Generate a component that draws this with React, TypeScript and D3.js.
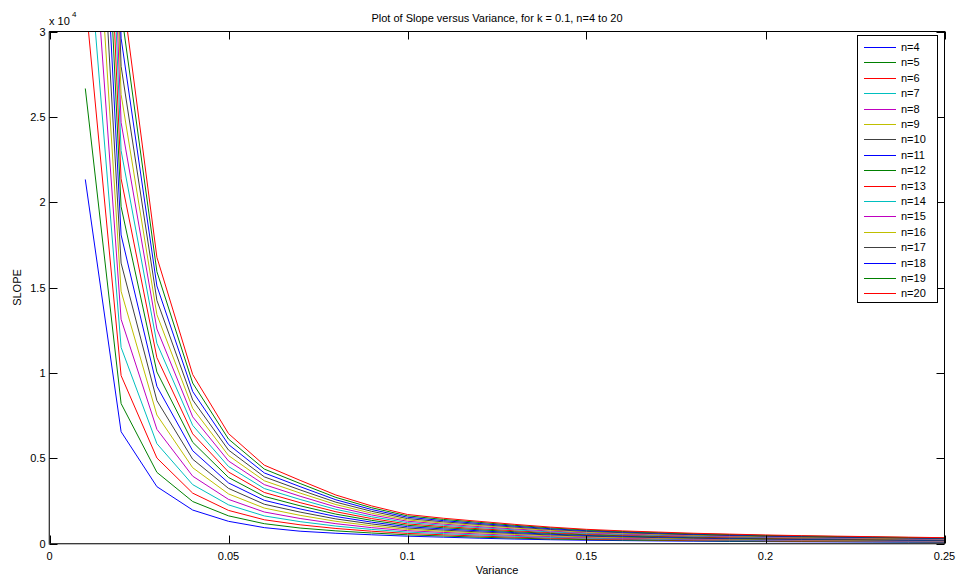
import React from "react";
import * as d3 from "d3";

// Variance values (x) at which the slope was evaluated
const variance = [
  0.01, 0.02, 0.03, 0.04, 0.05, 0.06, 0.07, 0.08, 0.09, 0.1, 0.11, 0.12, 0.13,
  0.14, 0.15, 0.16, 0.17, 0.18, 0.19, 0.2, 0.21, 0.22, 0.23, 0.24, 0.25,
];

// Slope for each sample size n, k = 0.1
const slopeN4 = [21330, 6550, 3330, 1960, 1300, 930, 720, 600, 510, 430, 370, 310, 260, 220, 190, 170, 150, 135, 120, 110, 100, 92, 85, 78, 72];
const slopeN5 = [26660, 8200, 4170, 2460, 1620, 1160, 905, 740, 615, 510, 440, 370, 315, 265, 230, 205, 180, 165, 145, 135, 120, 113, 105, 96, 89];
const slopeN6 = [31990, 9840, 5010, 2950, 1940, 1390, 1095, 880, 720, 590, 510, 435, 370, 315, 270, 240, 215, 195, 175, 160, 145, 134, 124, 115, 106];
const slopeN7 = [37320, 11490, 5850, 3450, 2265, 1615, 1280, 1020, 825, 670, 580, 495, 420, 360, 310, 275, 250, 220, 200, 180, 170, 155, 144, 133, 122];
const slopeN8 = [42650, 13140, 6690, 3945, 2585, 1845, 1465, 1160, 930, 750, 650, 560, 475, 405, 350, 310, 280, 250, 230, 205, 190, 176, 164, 151, 139];
const slopeN9 = [47980, 14780, 7530, 4440, 2905, 2075, 1650, 1300, 1040, 825, 715, 620, 530, 450, 390, 350, 310, 280, 255, 230, 210, 197, 184, 169, 156];
const slopeN10 = [53310, 16430, 8370, 4940, 3230, 2300, 1840, 1440, 1145, 905, 785, 680, 585, 500, 430, 385, 345, 310, 280, 255, 235, 218, 203, 188, 173];
const slopeN11 = [58640, 18080, 9210, 5435, 3550, 2530, 2025, 1580, 1250, 985, 855, 745, 635, 545, 470, 420, 380, 340, 310, 280, 260, 240, 223, 206, 189];
const slopeN12 = [63970, 19730, 10050, 5930, 3870, 2760, 2210, 1720, 1355, 1065, 925, 805, 690, 590, 510, 455, 410, 370, 335, 305, 280, 260, 243, 224, 206];
const slopeN13 = [69300, 21370, 10890, 6425, 4190, 2990, 2395, 1860, 1460, 1145, 995, 865, 745, 635, 550, 490, 440, 395, 360, 330, 300, 282, 262, 242, 223];
const slopeN14 = [74630, 23020, 11730, 6920, 4510, 3220, 2580, 2000, 1565, 1225, 1065, 930, 800, 680, 590, 525, 475, 425, 390, 355, 325, 303, 282, 260, 240];
const slopeN15 = [79960, 24670, 12570, 7420, 4835, 3450, 2770, 2140, 1670, 1305, 1135, 990, 850, 730, 630, 560, 505, 455, 415, 380, 350, 324, 302, 279, 256];
const slopeN16 = [85290, 26310, 13410, 7915, 5155, 3675, 2955, 2280, 1775, 1380, 1200, 1055, 905, 775, 670, 600, 540, 485, 445, 405, 370, 345, 321, 297, 273];
const slopeN17 = [90620, 27960, 14250, 8410, 5475, 3905, 3140, 2420, 1885, 1460, 1270, 1115, 960, 820, 710, 635, 570, 515, 470, 425, 390, 366, 341, 315, 290];
const slopeN18 = [95950, 29610, 15090, 8905, 5800, 4135, 3330, 2560, 1990, 1540, 1340, 1175, 1015, 865, 750, 670, 605, 540, 495, 450, 415, 387, 361, 333, 307];
const slopeN19 = [101280, 31250, 15930, 9400, 6120, 4360, 3515, 2700, 2095, 1620, 1410, 1240, 1065, 915, 790, 705, 635, 570, 525, 475, 440, 408, 380, 352, 323];
const slopeN20 = [106600, 32900, 16770, 9900, 6440, 4590, 3700, 2840, 2200, 1700, 1480, 1300, 1120, 960, 830, 740, 670, 600, 550, 500, 460, 430, 400, 370, 340];

const seriesNames = ["n=4", "n=5", "n=6", "n=7", "n=8", "n=9", "n=10", "n=11", "n=12", "n=13", "n=14", "n=15", "n=16", "n=17", "n=18", "n=19", "n=20"];
const seriesValues = [slopeN4, slopeN5, slopeN6, slopeN7, slopeN8, slopeN9, slopeN10, slopeN11, slopeN12, slopeN13, slopeN14, slopeN15, slopeN16, slopeN17, slopeN18, slopeN19, slopeN20];

// Default line colour order, cycled
const colorOrder = ["#0000ff", "#008000", "#ff0000", "#00bfbf", "#bf00bf", "#bfbf00", "#404040"];

const xTicks = [0, 0.05, 0.1, 0.15, 0.2, 0.25];
const xTickLabels = ["0", "0.05", "0.1", "0.15", "0.2", "0.25"];
const yTicks = [0, 5000, 10000, 15000, 20000, 25000, 30000];
const yTickLabels = ["0", "0.5", "1", "1.5", "2", "2.5", "3"];

const titleText = "Plot of Slope versus Variance, for k = 0.1, n=4 to 20";
const xLabel = "Variance";
const yLabel = "SLOPE";

const W = 956;
const H = 577;
const plot = { left: 49.5, right: 944.5, top: 31.5, bottom: 543.5 };
const font = "'Liberation Sans', Arial, Helvetica, sans-serif";

export default function App() {
  const x = d3.scaleLinear().domain([0, 0.25]).range([plot.left, plot.right]);
  const y = d3.scaleLinear().domain([0, 30000]).range([plot.bottom, plot.top]);
  const line = d3
    .line<number>()
    .x((_, i) => x(variance[i]))
    .y((d) => y(d));

  const tickLen = 8;
  const legend = { left: 857.5, top: 35.5, width: 80, height: 267, row: 15.4, first: 47 };

  return (
    <svg
      width={W}
      height={H}
      style={{ position: "absolute", left: 0, top: 0, background: "#fff" }}
      fontFamily={font}
    >
      <defs>
        <clipPath id="plot-clip">
          <rect x={plot.left} y={plot.top} width={plot.right - plot.left} height={plot.bottom - plot.top} />
        </clipPath>
      </defs>
      <rect x={0} y={0} width={W} height={H} fill="#fff" />

      {/* curves */}
      <g clipPath="url(#plot-clip)">
        {seriesValues.map((vals, i) => (
          <path
            key={seriesNames[i]}
            d={line(vals) ?? ""}
            fill="none"
            stroke={colorOrder[i % colorOrder.length]}
            strokeWidth={1}
          />
        ))}
      </g>

      {/* axes box */}
      <rect
        x={plot.left}
        y={plot.top}
        width={plot.right - plot.left}
        height={plot.bottom - plot.top}
        fill="none"
        stroke="#000"
        strokeWidth={1}
      />
      <line x1={plot.left} x2={plot.right} y1={plot.bottom + 0.5} y2={plot.bottom + 0.5} stroke="#777" strokeWidth={1} />
      <line x1={plot.left - 0.5} x2={plot.left - 0.5} y1={plot.top} y2={plot.bottom + 1} stroke="#777" strokeWidth={1} />

      {/* x ticks */}
      {xTicks.map((t, i) => (
        <g key={"xt" + i}>
          <line x1={Math.round(x(t)) + 0.5} x2={Math.round(x(t)) + 0.5} y1={plot.bottom} y2={plot.bottom - tickLen} stroke="#000" />
          <line x1={Math.round(x(t)) + 0.5} x2={Math.round(x(t)) + 0.5} y1={plot.top} y2={plot.top + tickLen} stroke="#000" />
          <text x={x(t)} y={560} fontSize={11} textAnchor="middle" fill="#000">
            {xTickLabels[i]}
          </text>
        </g>
      ))}

      {/* y ticks */}
      {yTicks.map((t, i) => (
        <g key={"yt" + i}>
          <line x1={plot.left} x2={plot.left + tickLen} y1={Math.round(y(t)) + 0.5} y2={Math.round(y(t)) + 0.5} stroke="#000" />
          <line x1={plot.right} x2={plot.right - tickLen} y1={Math.round(y(t)) + 0.5} y2={Math.round(y(t)) + 0.5} stroke="#000" />
          <text x={plot.left - 4} y={y(t) + 4} fontSize={11} textAnchor="end" fill="#000">
            {yTickLabels[i]}
          </text>
        </g>
      ))}

      {/* exponent */}
      <text x={49} y={25} fontSize={11} fill="#000">
        x 10
      </text>
      <text x={72} y={17} fontSize={8} fill="#000">
        4
      </text>

      {/* title and axis labels */}
      <text x={(plot.left + plot.right) / 2} y={22} fontSize={11} textAnchor="middle" fill="#000">
        {titleText}
      </text>
      <text x={(plot.left + plot.right) / 2} y={574} fontSize={11} textAnchor="middle" fill="#000">
        {xLabel}
      </text>
      <text
        transform={`translate(21, ${(plot.top + plot.bottom) / 2}) rotate(-90)`}
        fontSize={11}
        textAnchor="middle"
        fill="#000"
      >
        {yLabel}
      </text>

      {/* legend */}
      <g>
        <rect x={legend.left} y={legend.top} width={legend.width} height={legend.height} fill="#fff" stroke="#000" strokeWidth={1} />
        {seriesNames.map((name, i) => {
          const cy = legend.first + i * legend.row;
          return (
            <g key={"lg" + name}>
              <line x1={864} x2={896} y1={Math.round(cy) + 0.5} y2={Math.round(cy) + 0.5} stroke={colorOrder[i % colorOrder.length]} strokeWidth={1} />
              <text x={901} y={cy + 4} fontSize={11} fill="#000">
                {name}
              </text>
            </g>
          );
        })}
      </g>
    </svg>
  );
}
